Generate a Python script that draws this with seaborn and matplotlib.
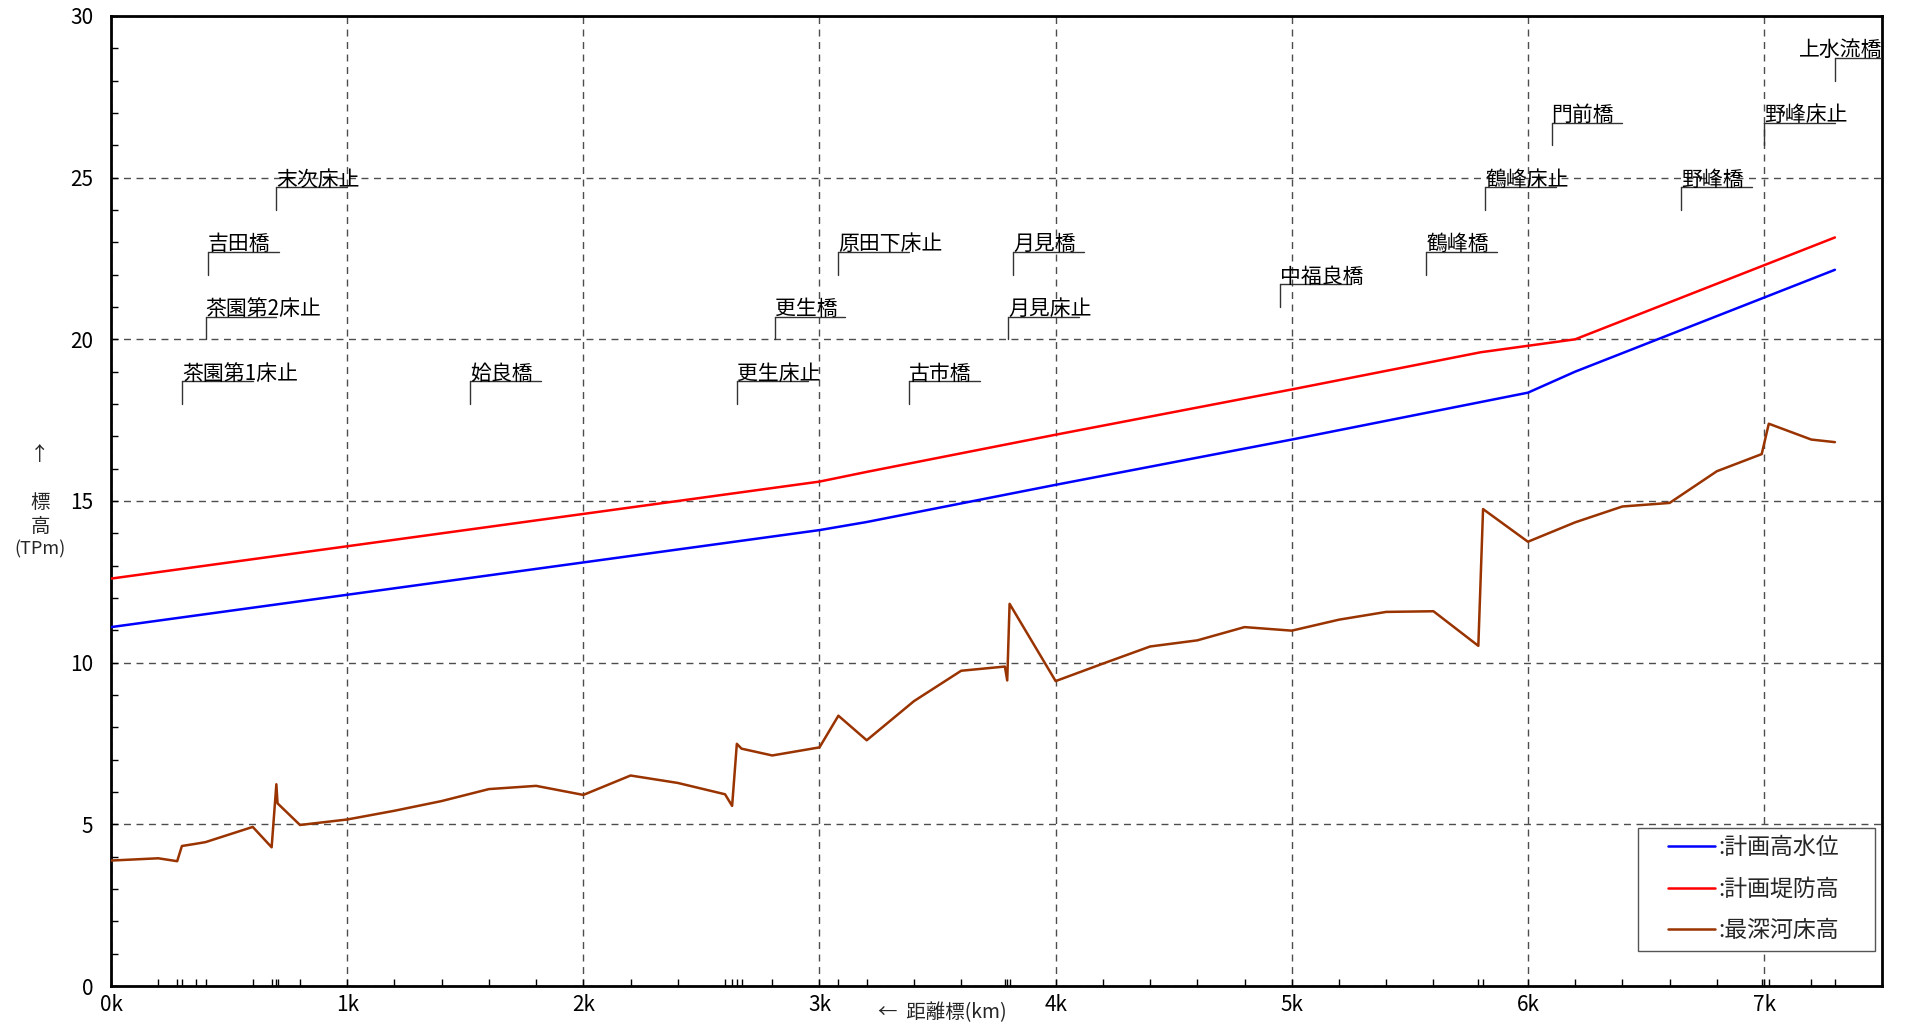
import matplotlib
matplotlib.use("Agg")
import matplotlib.pyplot as plt
import pandas as pd
import seaborn as sns
from matplotlib.legend_handler import HandlerLine2D
from matplotlib.lines import Line2D
from matplotlib.ticker import FixedLocator, MultipleLocator

# 計画高水位
hwl_km = [0.0, 1.0, 2.0, 3.0, 3.2, 4.0, 5.0, 6.0, 6.2, 7.3]
hwl_el = [11.1, 12.1, 13.1, 14.1, 14.35, 15.5, 16.9, 18.35, 19.0, 22.15]

# 計画堤防高
levee_km = [0.0, 1.0, 1.6, 2.0, 3.0, 3.2, 4.0, 5.0, 5.8, 6.2, 7.3]
levee_el = [12.6, 13.6, 14.2, 14.6, 15.6, 15.9, 17.05, 18.45, 19.6, 20.0, 23.15]

# 最深河床高
bed_km = [0.0, 0.2, 0.28, 0.30, 0.36, 0.40, 0.60, 0.68, 0.70, 0.705, 0.80,
          1.0, 1.2, 1.4, 1.6, 1.8, 2.0, 2.2, 2.4, 2.6, 2.63, 2.65, 2.67,
          2.8, 3.0, 3.08, 3.2, 3.4, 3.6, 3.785, 3.795, 3.805, 4.0, 4.2,
          4.4, 4.6, 4.8, 5.0, 5.2, 5.4, 5.6, 5.79, 5.81, 6.0, 6.2, 6.4,
          6.6, 6.8, 6.99, 7.02, 7.2, 7.3]
bed_el = [3.88, 3.95, 3.86, 4.33, 4.40, 4.45, 4.92, 4.29, 6.24, 5.65, 4.98,
          5.15, 5.42, 5.72, 6.09, 6.19, 5.91, 6.51, 6.28, 5.93, 5.57, 7.49, 7.34,
          7.13, 7.38, 8.36, 7.60, 8.81, 9.75, 9.88, 9.45, 11.82, 9.43, 9.97,
          10.50, 10.69, 11.10, 10.99, 11.33, 11.57, 11.59, 10.52, 14.75, 13.74, 14.34, 14.83,
          14.94, 15.92, 16.45, 17.39, 16.90, 16.82]

# 構造物 (名称, 距離標 km, 引出線の基準標高)
struct_names = ["茶園第1床止", "茶園第2床止", "吉田橋", "末次床止", "姶良橋",
                "更生床止", "更生橋", "原田下床止", "古市橋", "月見床止", "月見橋",
                "中福良橋", "鶴峰橋", "鶴峰床止", "門前橋", "野峰橋", "野峰床止",
                "上水流橋"]
struct_km = [0.30, 0.40, 0.41, 0.70, 1.52, 2.65, 2.81, 3.08, 3.38, 3.80, 3.82,
             4.95, 5.57, 5.82, 6.10, 6.65, 7.00, 7.30]
struct_base = [18, 20, 22, 24, 18, 18, 20, 22, 18, 20, 22, 21, 22, 24, 26, 24,
               26, 28]

x_ticks = [0, 1, 2, 3, 4, 5, 6, 7]
x_ticklabels = [f"{k}k" for k in x_ticks]
y_ticks = [0, 5, 10, 15, 20, 25, 30]

series = [
    (":計画高水位", hwl_km, hwl_el, "#0000ff"),
    (":計画堤防高", levee_km, levee_el, "#ff0000"),
    (":最深河床高", bed_km, bed_el, "#993300"),
]

sns.set_theme(style="ticks")
plt.rcParams["font.family"] = ["Noto Sans CJK JP", "DejaVu Sans"]

XMAX = 7.5
fig = plt.figure(figsize=(19.05, 10.24), dpi=100)
ax = fig.add_axes([0.0583, 0.0371, 0.9297, 0.9473])

for label, km, el, color in series:
    df = pd.DataFrame({"km": km, "el": el})
    sns.lineplot(data=df, x="km", y="el", color=color, lw=1.8, label=label,
                 sort=False, estimator=None, ax=ax, zorder=3)

# 構造物の引出線と名称
for name, x, base in zip(struct_names, struct_km, struct_base):
    top = base + 0.7
    ax.plot([x, x], [base, top], color="#333333", lw=1.0, zorder=4)
    ax.plot([x, min(x + 0.3, XMAX)], [top, top], color="#333333", lw=1.0, zorder=4)
    if x + 0.3 > XMAX:
        ax.text(XMAX, top - 0.1, name, ha="right", va="bottom", fontsize=15,
                color="black", zorder=5)
    else:
        ax.text(x, top - 0.1, name, ha="left", va="bottom", fontsize=15,
                color="black", zorder=5)

ax.set_xlim(0, XMAX)
ax.set_ylim(0, 30)
ax.set_xticks(x_ticks)
ax.set_xticklabels(x_ticklabels)
ax.set_yticks(y_ticks)
ax.xaxis.set_minor_locator(FixedLocator(bed_km))
ax.yaxis.set_minor_locator(MultipleLocator(1))
ax.tick_params(which="both", direction="in", length=5, width=1, color="black",
               bottom=True, left=True, top=False, right=False)
ax.tick_params(axis="y", which="major", pad=13, labelsize=15, colors="black")
ax.tick_params(axis="x", which="major", pad=6, labelsize=15, colors="black")
ax.set_xlabel("")
ax.set_ylabel("")

ax.grid(True, which="major", color="#4d4d4d", linestyle=(0, (5, 4)), lw=1.0)
for sp in ax.spines.values():
    sp.set_color("black")
    sp.set_linewidth(2.0)

leg = ax.legend(loc="lower left", bbox_to_anchor=(0.862, 0.0364, 0.1339, 0.3),
                mode="expand", borderaxespad=0, fontsize=16.5, frameon=True,
                fancybox=False, framealpha=1, edgecolor="#555555",
                handlelength=3.0, handletextpad=0.15, labelspacing=0.8,
                borderpad=0.38,
                handler_map={Line2D: HandlerLine2D(xpad=0.95)})
leg.get_frame().set_linewidth(1.0)

# 縦軸・横軸の表題
fig.text(0.021, 1 - 454 / 1024, "↑", ha="center", va="center", fontsize=14)
fig.text(0.021, 1 - 502 / 1024, "標", ha="center", va="center", fontsize=14)
fig.text(0.021, 1 - 526 / 1024, "高", ha="center", va="center", fontsize=14)
fig.text(0.021, 1 - 549 / 1024, "(TPm)", ha="center", va="center", fontsize=13)
fig.text(0.4945, 1 - 1013 / 1024, "←  距離標(km)", ha="center", va="center",
         fontsize=14)

fig.savefig("out.png", dpi=100)
